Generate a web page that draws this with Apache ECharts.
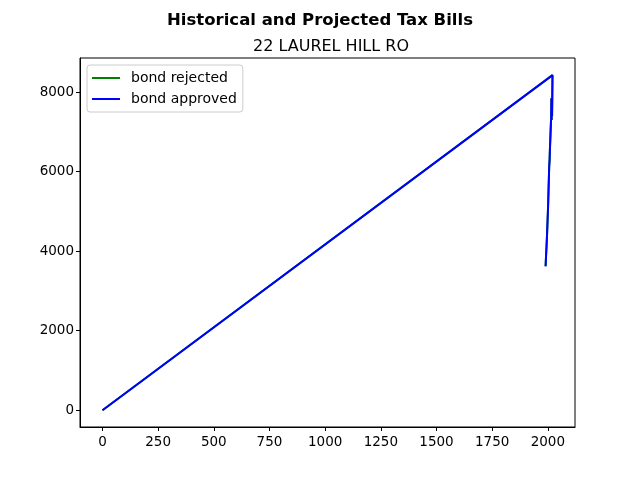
<!DOCTYPE html>
<html><head><meta charset="utf-8">
<script src="https://cdn.jsdelivr.net/npm/echarts@6/dist/echarts.min.js"></script>
<style>html,body{margin:0;padding:0;background:#fff}#c{width:640px;height:480px}</style>
</head><body><div id="c"></div>
<script>
var years = [1990,1991,1992,1993,1994,1995,1996,1997,1998,1999,2000,2001,2002,2003,2004,2005,2006,2007,2008,2009,2010,2011,2012,2013,2014,2015,2016,2017,2018,2019,2020,2021,0];
var rejected = [3620,3750,3880,4000,4100,4230,4350,4500,4650,4800,4950,5100,5300,5500,5700,5900,6120,6080,6300,6500,6650,6800,6950,7100,7250,7350,7850,7300,7800,7400,7900,8430,0];
var approved = [3620,3750,3880,4000,4100,4230,4350,4500,4650,4800,4950,5100,5300,5500,5700,5900,6120,6080,6300,6500,6650,6800,6950,7100,7250,7350,7850,7300,7800,7400,7900,8430,0];
var xTicks = [0,250,500,750,1000,1250,1500,1750,2000];
var yTicks = [0,2000,4000,6000,8000];
var mainTitle = 'Historical and Projected Tax Bills';
var subTitle = '22 LAUREL HILL RO';

function pairs(xs, ys){ return xs.map(function(x,i){return [x, ys[i]];}); }
function plain(v){ return String(v); }
var F = 'DejaVu Sans';
var chart = echarts.init(document.getElementById('c'), null, {renderer:'canvas'});
chart.setOption({
  animation:false,
  backgroundColor:'#fff',
  title:[
    {text:mainTitle,left:'center',top:7,textStyle:{fontFamily:F,fontSize:16.5,fontWeight:'bold',color:'#000'}},
    {text:subTitle,left:248,top:34,textStyle:{fontFamily:F,fontSize:16,fontWeight:'normal',color:'#000'}}
  ],
  legend:{
    left:87,top:65,orient:'vertical',itemWidth:28,itemHeight:2,itemGap:7,
    padding:[6,6,6,5],
    borderColor:'#cccccc',borderWidth:1,borderRadius:3,backgroundColor:'rgba(255,255,255,0.8)',
    textStyle:{fontFamily:F,fontSize:14,color:'#000',padding:[0,0,0,6]},
    icon:'rect',
    data:['bond rejected','bond approved']
  },
  grid:{left:80,right:65,top:58,bottom:53,show:true,borderColor:'#000',borderWidth:1,containLabel:false},
  xAxis:{type:'value',min:-101,max:2122,
    axisLine:{show:true,onZero:false,lineStyle:{color:'#000'}},
    axisTick:{show:true,inside:false,length:4,customValues:xTicks,lineStyle:{color:'#000'}},
    axisLabel:{customValues:xTicks,formatter:plain,fontFamily:F,fontSize:13.5,color:'#000',margin:8},
    splitLine:{show:false}},
  yAxis:{type:'value',min:-422,max:8861,
    axisLine:{show:true,onZero:false,lineStyle:{color:'#000'}},
    axisTick:{show:true,inside:false,length:4,customValues:yTicks,lineStyle:{color:'#000'}},
    axisLabel:{customValues:yTicks,formatter:plain,fontFamily:F,fontSize:13.5,color:'#000',margin:6},
    splitLine:{show:false}},
  series:[
    {name:'bond rejected',type:'line',data:pairs(years,rejected),showSymbol:false,symbol:'none',color:'#008000',lineStyle:{width:2,color:'#008000'}},
    {name:'bond approved',type:'line',data:pairs(years,approved),showSymbol:false,symbol:'none',color:'#0000ff',lineStyle:{width:2,color:'#0000ff'}}
  ]
});
</script></body></html>
